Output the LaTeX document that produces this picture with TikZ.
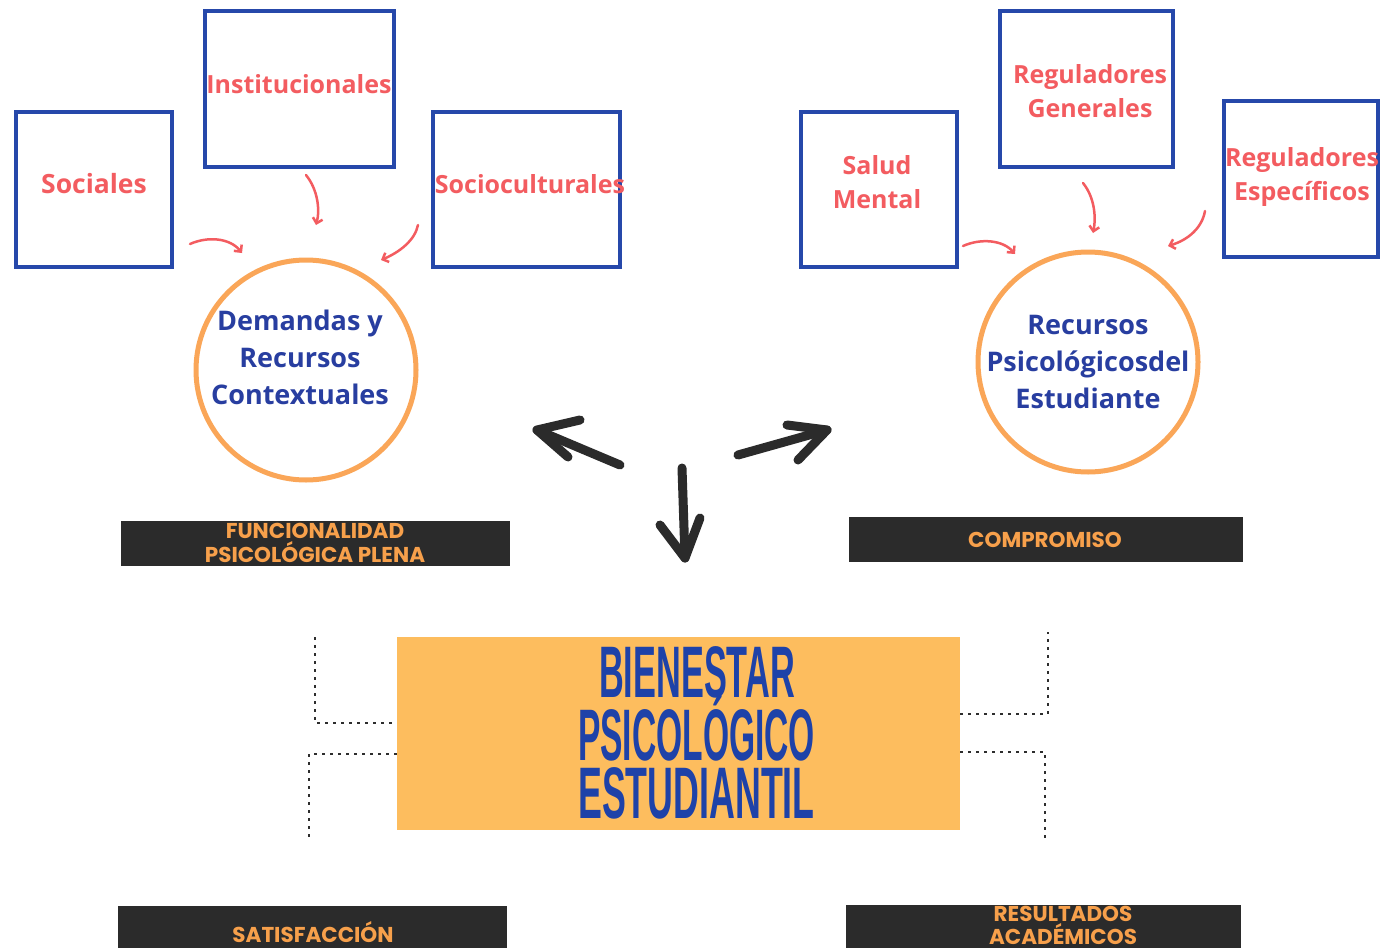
\documentclass[tikz,border=0pt]{standalone}
\usepackage{fontspec}
\setmainfont{Open Sans}
\newfontfamily\barfont{Poppins}
\newfontfamily\bigfont{Liberation Sans}
\usetikzlibrary{arrows.meta}
\definecolor{boxblue}{RGB}{38,72,170}
\definecolor{salmon}{RGB}{243,92,96}
\definecolor{circblue}{RGB}{40,62,160}
\definecolor{circorange}{RGB}{250,166,88}
\definecolor{bardark}{RGB}{43,43,43}
\definecolor{barorange}{RGB}{247,160,75}
\definecolor{centfill}{RGB}{253,189,94}
\definecolor{centblue}{RGB}{30,66,168}
\definecolor{dotgray}{RGB}{45,45,45}
\begin{document}
\begin{tikzpicture}[x=1pt,y=-1pt,
  factorbox/.style={draw=boxblue, line width=4pt, inner sep=0pt},
  factortext/.style={text=salmon, font=\bfseries\fontsize{25}{34}\selectfont, align=center, inner sep=0pt},
  ring/.style={circle, draw=circorange, line width=5pt, minimum size=220pt, inner sep=0pt},
  ringtext/.style={text=circblue, font=\bfseries\fontsize{27}{37}\selectfont, align=center, inner sep=0pt},
  darkbar/.style={fill=bardark, inner sep=0pt},
  bartext/.style={text=barorange, font=\barfont\bfseries\fontsize{21.5}{24}\selectfont, align=center, inner sep=0pt},
  bigtext/.style={text=centblue, inner sep=0pt, anchor=base, font=\bigfont\bfseries\fontsize{73}{60}\selectfont},
  thinarrow/.style={draw=salmon, line width=2.5pt, line cap=round, -{Straight Barb[length=5pt,width=10pt]}},
  bigarrow/.style={draw=bardark, line width=9pt, line cap=round, line join=round},
  dotline/.style={draw=dotgray, line width=2.6pt, dash pattern=on 2.6pt off 5.4pt}]
\useasboundingbox (0,0) rectangle (1380,947);
\clip (0,0) rectangle (1380,947);
\fill[white] (0,0) rectangle (1380,947);

% factor boxes
\node[factorbox, minimum width=156pt, minimum height=155pt] (soc) at (94,189.5) {};
\node[factorbox, minimum width=189pt, minimum height=156pt] (inst) at (299.5,89) {};
\node[factorbox, minimum width=187pt, minimum height=155pt] (socu) at (526.5,189.5) {};
\node[factorbox, minimum width=156pt, minimum height=155pt] (salud) at (879,189.5) {};
\node[factorbox, minimum width=173pt, minimum height=156pt] (rgen) at (1086.5,89) {};
\node[factorbox, minimum width=154pt, minimum height=156pt] (resp) at (1301,179) {};

\node[factortext, font=\bfseries\fontsize{26.5}{34}\selectfont] (tsoc) at (94,184) {Sociales};
\node[factortext] (tinst) at (299,84) {Institucionales};
\node[factortext] (tsocu) at (530,184) {Socioculturales};
\node[factortext] (tsalud) at (877,182) {Salud\\Mental};
\node[factortext] (trgen) at (1090,91) {Reguladores\\Generales};
\node[factortext] (tresp) at (1302,177) {Reguladores\\Específicos};

% circles
\node[ring] (demand) at (306,370) {};
\node[ring] (recur) at (1088,362) {};
\node[ringtext] (tdemand) at (300,357) {Demandas y\\Recursos\\Contextuales};
\node[ringtext] (trecur) at (1088,362) {Recursos\\Psicológicosdel\\Estudiante};

% small curved arrows
\coordinate (a1s) at (190,244); \coordinate (a1e) at (242,253);
\coordinate (a2s) at (306,175); \coordinate (a2e) at (316,225);
\coordinate (a3s) at (418,225); \coordinate (a3e) at (381,260);
\coordinate (a4s) at (963,246); \coordinate (a4e) at (1015,254);
\coordinate (a5s) at (1083,183); \coordinate (a5e) at (1093,233);
\coordinate (a6s) at (1205,211); \coordinate (a6e) at (1168,246);
\draw[thinarrow] (a1s) .. controls (208,236) and (230,238) .. (a1e);
\draw[thinarrow] (a2s) .. controls (318,190) and (320,210) .. (a2e);
\draw[thinarrow] (a3s) .. controls (415,240) and (400,252) .. (a3e);
\draw[thinarrow] (a4s) .. controls (981,238) and (1003,240) .. (a4e);
\draw[thinarrow] (a5s) .. controls (1095,198) and (1096,218) .. (a5e);
\draw[thinarrow] (a6s) .. controls (1202,228) and (1188,240) .. (a6e);

% big hand-drawn arrows
\coordinate (bl0) at (620,465); \coordinate (bl1) at (537,430);
\coordinate (bla) at (580,420); \coordinate (blb) at (568,457);
\coordinate (bd0) at (682,468); \coordinate (bd1) at (685,558);
\coordinate (bda) at (660,525); \coordinate (bdb) at (700,518);
\coordinate (br0) at (738,455); \coordinate (br1) at (827,430);
\coordinate (bra) at (787,425); \coordinate (brb) at (798,460);
\draw[bigarrow] (bl0) -- (bl1);
\draw[bigarrow] (bla) -- (bl1) -- (blb);
\draw[bigarrow] (bd0) -- (bd1);
\draw[bigarrow] (bda) -- (bd1) -- (bdb);
\draw[bigarrow] (br0) -- (br1);
\draw[bigarrow] (bra) -- (br1) -- (brb);

% dark bars
\node[darkbar, minimum width=389pt, minimum height=45pt] (fun) at (315.5,543.5) {};
\node[darkbar, minimum width=394pt, minimum height=45pt] (com) at (1046,539.5) {};
\node[darkbar, minimum width=389pt, minimum height=60pt] (sat) at (312.5,936) {};
\node[darkbar, minimum width=395pt, minimum height=60pt] (res) at (1043.5,935) {};
\node[bartext] (tfun) at (315,543) {FUNCIONALIDAD\\PSICOLÓGICA PLENA};
\node[bartext] (tcom) at (1045,540) {COMPROMISO};
\node[bartext] (tsat) at (313,932) {SATISFACCIÓN};
\node[bartext, font=\barfont\bfseries\fontsize{21.5}{23}\selectfont] (tres) at (1063,925) {RESULTADOS\\ACADÉMICOS};

% central box
\node[fill=centfill, inner sep=0pt, minimum width=563pt, minimum height=193pt] (cent) at (678.5,733.5) {};
\node[bigtext] (tcent1) at (697,697) {\scalebox{0.47}[1]{BIENESTAR}};
\node[bigtext] (tcent2) at (696.5,760) {\scalebox{0.46}[1]{PSICOLÓGICO}};
\node[bigtext] (tcent3) at (696.5,818) {\scalebox{0.49}[1]{ESTUDIANTIL}};

% dotted connectors
\coordinate (lu1) at (315,637); \coordinate (lu2) at (315,723);
\coordinate (ll1) at (309,754); \coordinate (ll2) at (309,838);
\coordinate (ru1) at (1048,714); \coordinate (ru2) at (1048,632);
\coordinate (rl1) at (1045,752); \coordinate (rl2) at (1045,840);
\draw[dotline] (lu1) -- (lu2) -- (lu2 -| cent.west);
\draw[dotline] (ll1 -| cent.west) -- (ll1) -- (ll2);
\draw[dotline] (ru1 -| cent.east) -- (ru1) -- (ru2);
\draw[dotline] (rl1 -| cent.east) -- (rl1) -- (rl2);
\end{tikzpicture}
\end{document}
